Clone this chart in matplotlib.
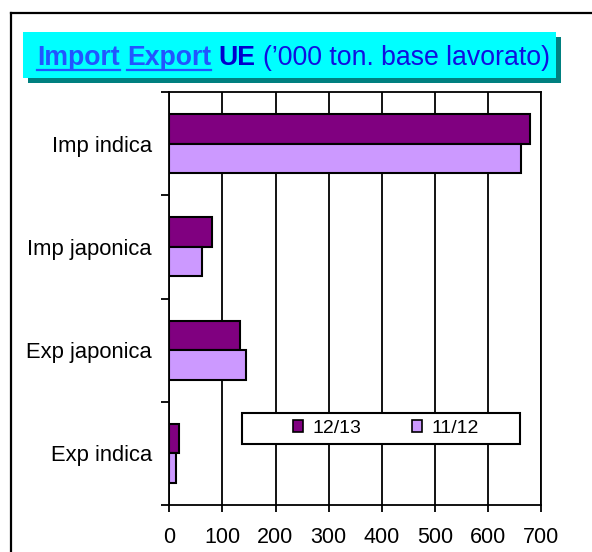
import matplotlib
matplotlib.use("Agg")
import matplotlib.pyplot as plt
from matplotlib.patches import Rectangle, Patch
from matplotlib.lines import Line2D
import numpy as np

plt.rcParams['font.family'] = ['Liberation Sans', 'DejaVu Sans']

# ---- data ----
categories = ["Imp indica", "Imp japonica", "Exp japonica", "Exp indica"]
series_names = ["12/13", "11/12"]
values_1213 = [680, 81, 133, 19]
values_1112 = [663, 62, 144, 13]
x_ticks = [0, 100, 200, 300, 400, 500, 600, 700]

title_parts = ["Import", "Export", "UE", "(\u2019000 ton. base lavorato)"]

c_dark = "#800080"
c_light = "#CC99FF"

W, H = 592, 552
fig = plt.figure(figsize=(W / 100, H / 100), dpi=100)
fig.patch.set_facecolor("white")

def fx(px):
    return px / W

def fy(py):
    return 1 - py / H

# outer frame lines
fig.add_artist(Line2D([fx(11), fx(11)], [fy(13), fy(H + 5)], color="black", lw=1.6, transform=fig.transFigure))
fig.add_artist(Line2D([fx(11), fx(W + 5)], [fy(13), fy(13)], color="black", lw=1.6, transform=fig.transFigure))

# title box with shadow
bx0, bx1, by0, by1 = 23, 556, 32, 78
sh = 5
fig.add_artist(Rectangle((fx(bx0 + sh), fy(by1 + sh)), fx(bx1 - bx0), (by1 - by0) / H,
                         transform=fig.transFigure, facecolor="#008080", edgecolor="none", zorder=1))
fig.add_artist(Rectangle((fx(bx0), fy(by1)), fx(bx1 - bx0), (by1 - by0) / H,
                         transform=fig.transFigure, facecolor="#00FFFF", edgecolor="none", zorder=2))

# axes
ax_l, ax_r, ax_t, ax_b = 169.3, 541, 92, 505
ax = fig.add_axes([fx(ax_l), fy(ax_b), fx(ax_r - ax_l), (ax_b - ax_t) / H])

y = np.arange(len(categories))
bh = 0.285
ax.barh(y - bh / 2, values_1213, height=bh, color=c_dark, edgecolor="black", linewidth=1.5, zorder=3)
ax.barh(y + bh / 2, values_1112, height=bh, color=c_light, edgecolor="black", linewidth=1.5, zorder=3)

ax.set_xlim(0, 700)
ax.set_ylim(len(categories) - 0.5, -0.5)

ax.set_xticks(x_ticks)
ax.set_xticklabels([str(t) for t in x_ticks], fontsize=15.5)
ax.tick_params(axis="x", direction="out", length=5, width=1.3, pad=11, colors="black")
ax.xaxis.grid(True, color="black", linewidth=1.3, zorder=0)
ax.set_axisbelow(True)

ax.set_yticks(np.arange(len(categories) + 1) - 0.5)
ax.set_yticklabels([])
ax.set_yticks(y, minor=True)
ax.set_yticklabels(categories, minor=True, fontsize=15.8)
ax.tick_params(axis="y", which="major", direction="out", length=6, width=1.3)
ax.tick_params(axis="y", which="minor", length=0, pad=12.5)

for s in ["left", "bottom", "top", "right"]:
    ax.spines[s].set_linewidth(1.3)
    ax.spines[s].set_color("black")

# legend box
lx0, lx1 = (242 - ax_l) / (ax_r - ax_l), (520 - ax_l) / (ax_r - ax_l)
ly0, ly1 = (ax_b - 444) / (ax_b - ax_t), (ax_b - 413) / (ax_b - ax_t)
ax.add_patch(Rectangle((lx0, ly0), lx1 - lx0, ly1 - ly0, transform=ax.transAxes,
                       facecolor="white", edgecolor="black", linewidth=1.5, zorder=4))
handles = [Patch(facecolor=c_dark, edgecolor="black", linewidth=1.2),
           Patch(facecolor=c_light, edgecolor="black", linewidth=1.2)]
leg = ax.legend(handles, series_names, loc="center", bbox_to_anchor=(0.582, (ly0 + ly1) / 2),
                ncol=2, frameon=False, fontsize=14, handlelength=0.55, handleheight=0.6,
                handletextpad=0.45, columnspacing=2.6, borderpad=0)
leg.set_zorder(5)

# title text pieces
fig.canvas.draw()
renderer = fig.canvas.get_renderer()
tsize = 19.2
x = 37
base = 65
styles = [
    dict(color="#2255FF", weight="bold", underline=True),
    dict(color="#2255FF", weight="bold", underline=True),
    dict(color="#0000CC", weight="bold", underline=False),
    dict(color="#1010E0", weight="normal", underline=False),
]
space_px = 0.278 * tsize * 100 / 72
for part, st in zip(title_parts, styles):
    t = fig.text(fx(x), fy(base), part, fontsize=tsize, color=st["color"], fontweight=st["weight"],
                 ha="left", va="baseline", zorder=3)
    bb = t.get_window_extent(renderer=renderer)
    if st["underline"]:
        fig.add_artist(Line2D([fx(x), fx(x + bb.width)], [fy(base + 5), fy(base + 5)],
                              color=st["color"], lw=1.6, transform=fig.transFigure, zorder=3))
    x += bb.width + space_px

fig.savefig("out.png", dpi=100)
